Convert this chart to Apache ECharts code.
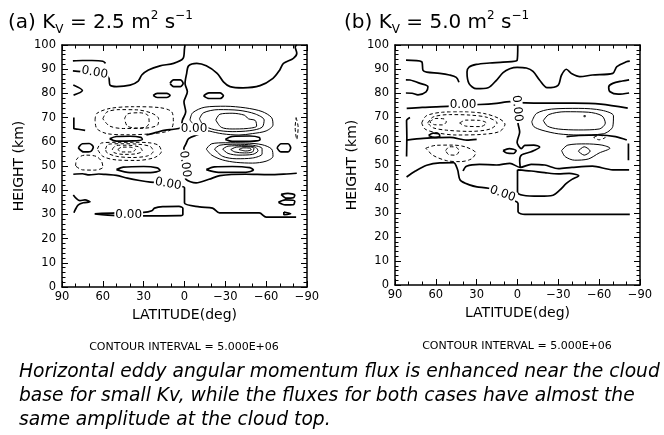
<!DOCTYPE html>
<html><head><meta charset="utf-8">
<script src="https://cdn.jsdelivr.net/npm/echarts@6/dist/echarts.min.js"></script>
<style>html,body{margin:0;padding:0;background:#fff}#c{width:664px;height:435px}</style>
</head><body><div id="c"></div>
<script>
// ---------- axis ticks ----------
const latTicks = [90, 60, 30, 0, -30, -60, -90];
const heightTicks = [0, 10, 20, 30, 40, 50, 60, 70, 80, 90, 100];
const contourLabel = '0.00';

// ---------- panel (a) Kv = 2.5 : contour lines [latitude, height] ----------
const a_zero_1 = [[82,93.4],[75,93.6],[68,93.6],[60,93.3],[58,92.4]];
const a_zero_2 = [[82,89.3],[76,89],[66,88.4],[58,87.8],[55.5,86.2],[54.7,83.4],[50,82.8],[40,83.4],[34,85.1],[31.4,87.6],[26.5,89.7],[18,91.4],[8,92.4],[1,94.5],[0,98.6],[-0.4,100]];
const a_zero_3 = [[28,62.8],[20,64],[14,64.8],[8,65.2],[3,65.8],[1.5,69],[-0.9,72.4],[0.4,76.5],[-2.1,80.7],[-0.4,84.1],[-1.6,88.3],[-3,91.4],[-9,92.4],[-16,91.4],[-24,88.3],[-28.6,84.8],[-33.5,82.8],[-43,82.3],[-55.5,83.2],[-65,86.2],[-70,89.7],[-72.7,92.4],[-80,94.5],[-82.5,96.6],[-81.3,99.3],[-82.5,100]];
const a_zero_4 = [[-18,64.5],[-9,62.8],[-3,61.3],[-1,59],[0.5,57.2],[-0.5,55.5],[0.3,51],[-0.5,46.5],[-1,44.5],[-8.5,43],[-18,44.5],[-26,46],[-45,46.6],[-62,46.4],[-75,46.7],[-82.5,47]];
const a_zero_5 = [[81.7,46.6],[75,46.8],[70,46.3],[63,46.7],[58,46.5],[50,46.1],[42,45],[33,44],[25,43.3],[12,42.6],[3,41.6],[0,41],[0,38],[0,34.7],[-11,33.1],[-20.6,32.6],[-25.7,30.6],[-55,30.6],[-60,28.9],[-82,28.9]];
const a_zero_6 = [[66,30.2],[50,30.6],[30,30.8],[24,31.5],[22,32.6],[16,33.2],[4,33.3],[1.2,32.5],[1.2,30],[4,29.5],[30,29.4],[50,29.5],[66,30.2]];
const a_zero_7 = [[81.7,38],[79.7,36.7],[76.8,35.7],[73.1,36],[69.4,35.2],[74.4,34.8],[78,33.9],[80.4,31.8],[81.2,30.7]];
const a_zero_8 = [[-71,38.3],[-76,38.7],[-81,38],[-80,36.9],[-75,36.7],[-71,38.3]];
const a_zero_9 = [[-69,35],[-74,36],[-81,35.5],[-80,34],[-74,33.9],[-69,35]];
const a_zero_10 = [[-73,31],[-78,30.3],[-73,29.9],[-73,31]];
const a_zero_11 = [[81.7,83.5],[75,81.2],[81.5,79.3]];
const a_zero_12 = [[81.3,70],[81.3,65.5],[78,65.2],[73,64.7]];
const a_zero_13 = [[55,61.3],[50,62.2],[40,62.3],[32,61.8],[31,61],[38,60.4],[50,60.3],[55,61.3]];
const a_zero_14 = [[-30,61],[-35,62.2],[-48,62.4],[-55,61.8],[-55.5,60.8],[-48,60.2],[-35,60.2],[-30,61]];
const a_zero_15 = [[23,79.2],[20,80],[13,80],[10.6,79.2],[13,78.3],[20,78.3],[23,79.2]];
const a_zero_16 = [[-14,79],[-18,80.2],[-26,80.2],[-28.6,79],[-26,77.9],[-18,77.9],[-14,79]];
const a_zero_17 = [[10.6,84.2],[8,85.6],[3,85.6],[1,84.2],[3,82.8],[8,82.8],[10.6,84.2]];
const a_zero_18 = [[78,57.5],[75,59.2],[70,59.3],[67,57.8],[69,56],[74,55.8],[78,57.5]];
const a_zero_19 = [[-68,57.5],[-71,59.2],[-76,59.2],[-78,57.5],[-76,55.8],[-71,55.8],[-68,57.5]];
const a_zero_20 = [[50,48.5],[45,49.5],[30,49.8],[20,49.2],[18,48.2],[25,47.3],[40,47.3],[50,48.5]];
const a_zero_21 = [[-16,48.5],[-22,49.6],[-35,49.8],[-48,49.3],[-50.6,48.3],[-45,47.4],[-25,47.4],[-16,48.5]];
const a_pos_1 = [[-4,69],[-6,72],[-15,74.3],[-30,74.7],[-45,74],[-57,72.5],[-64,70],[-65,67],[-60,64.5],[-50,63.4],[-40,62.8],[-28,63.3],[-18,64.5],[-8,66.5],[-4,69]];
const a_pos_2 = [[-11,69.5],[-14,72],[-25,73.3],[-40,73],[-52,71.5],[-58.5,69],[-57,66],[-48,64.6],[-35,64.2],[-22,65],[-14,66.8],[-11,69.5]];
const a_pos_3 = [[-23,69],[-26,71.4],[-35,71.8],[-44,71],[-47,69.5],[-52,68.8],[-53,66.5],[-46,65.5],[-35,65.3],[-27,66],[-23,69]];
const a_pos_4 = [[-16,57],[-20,59.2],[-30,59.6],[-45,59.5],[-57,58.8],[-64,57],[-65,54],[-60,52],[-50,51.2],[-38,51.5],[-28,52.5],[-20,54.5],[-16,57]];
const a_pos_5 = [[-22,57],[-26,58.6],[-38,59],[-50,58.6],[-57,57.2],[-57,55],[-50,53.3],[-38,53],[-28,54],[-22,57]];
const a_pos_6 = [[-28,57],[-32,58.2],[-42,58.4],[-52,57.8],[-54,56.3],[-50,54.8],[-40,54.5],[-32,55.2],[-28,57]];
const a_pos_7 = [[-34,56.8],[-38,57.8],[-46,58],[-51,57.3],[-50,55.8],[-44,55.4],[-37,55.8],[-34,56.8]];
const a_pos_8 = [[-40,56.8],[-43,57.5],[-48,57.4],[-49,56.7],[-45,56.2],[-40,56.8]];
const a_neg_1 = [[65.7,69],[64.5,71.7],[54.7,73.8],[37.6,74.5],[18,74.1],[9.4,72.4],[8.2,68.3],[10.6,64.8],[22.9,63.4],[42.5,62.9],[57.2,63.4],[64.5,65.5],[65.7,69]];
const a_neg_2 = [[60,69.5],[57,72.3],[48,73.3],[35,73.2],[24,71.8],[19,69.5],[20,66.8],[30,65.6],[45,65.5],[55,66.5],[60,69.5]];
const a_neg_3 = [[44,69.5],[42,71.5],[33,72],[27,71],[26,68],[28,66.2],[35,65.7],[42,66.5],[44,69.5]];
const a_neg_4 = [[64,57],[61,59.5],[50,59.8],[38,59.8],[26,59.6],[19,58.5],[17,56],[22,53.5],[35,52.3],[50,52.5],[60,54],[64,57]];
const a_neg_5 = [[58,57],[56,59],[46,59.2],[34,59],[25,58],[23,56],[27,54.2],[38,53.5],[50,54],[57,55.5],[58,57]];
const a_neg_6 = [[53,57],[50,58.5],[42,58.6],[33,57.8],[31,56.2],[36,55],[45,54.8],[52,55.6],[53,57]];
const a_neg_7 = [[49,56.8],[46,57.8],[40,57.8],[36,56.8],[39,55.8],[46,55.8],[49,56.8]];
const a_neg_8 = [[80,50],[79,53],[73,54.5],[65,54],[61,52],[60,49.5],[66,48.3],[75,48.4],[80,50]];
const a_neg_9 = [[-82,70],[-83.5,66],[-82.5,61],[-81.3,66],[-82,70]];
const a_labels = [[66,88.6,-10],[-7,65.2,0],[-0.3,50.8,-82],[12,42.6,-10],[41,29.7,0]];

// ---------- panel (b) Kv = 5.0 ----------
const b_zero_1 = [[-0.2,100],[0.3,93.6],[10.6,92.9],[20.4,92.5],[30.2,91.9],[35.6,90.8],[37.1,88.7],[35.6,83.9],[30.2,81.8],[21.6,82.2],[15.5,85.3],[10.6,88.5],[5.7,90.1],[0.3,90.7],[-6.5,90.4],[-11.4,89],[-16.3,85.3],[-21.7,82.2],[-29.8,83.2],[-32.3,87.4],[-35.9,89.9],[-40,88],[-45.8,86.8],[-55,87.5],[-70,88.2],[-73,91],[-80,93],[-82.5,93.3]];
const b_zero_2 = [[81.9,93.7],[70.4,93],[69.4,89.4],[66.7,88.7],[57.1,88.2],[50,87.5],[45,86.5],[43,84.5]];
const b_zero_3 = [[82,85.5],[79,85.4],[71.6,84],[65.8,82.6],[67.2,80.5],[73.1,79.2],[77.5,79.9],[82,80]];
const b_zero_4 = [[-82,85.5],[-77,85],[-70,84],[-67,82.5],[-68,80.5],[-74,79.5],[-82,80]];
const b_zero_5 = [[81.4,73.6],[70,74],[60,74.2],[49.6,74.5],[40,75],[27.6,75.2],[15.4,75.7],[5.6,76.4],[0,76],[-12,75.8],[-41.4,75.8],[-61.2,75.4],[-81,73.7]];
const b_zero_6 = [[0,76],[0.5,72],[-0.4,67.2],[-1.6,63.7],[0.3,59.5],[-2.9,56.8],[-5.3,58.2],[-12,58.3],[-16.3,57.5],[-10,55.5],[-3,54.2],[-1.6,51.9],[-2,49]];
const b_zero_7 = [[10.6,56],[6,56.8],[1,56],[3,54.8],[8,55],[10.6,56]];
const b_zero_8 = [[81.5,45],[75,47.5],[66.7,49.9],[57,50.9],[47,51],[44,48],[42.1,43.7],[34.7,41.6],[29.8,40.9],[21.3,40.3],[11,38],[2.9,35.3],[-0.4,34],[-0.4,30.5],[-5.4,29.4],[-82.5,29.4]];
const b_zero_9 = [[0,48],[0,43.7],[0,38.8],[-4.1,37.4],[-16.3,37],[-26.1,37.4],[-31,39.5],[-35.9,42.3],[-40,44],[-45,45.5],[-38,46.5],[-30,46.3],[-20,46.8],[-10,47.5],[0,48]];
const b_zero_10 = [[40,47.5],[37.5,49.5],[28,50.3],[15.4,50],[5.6,50.7],[-2,49],[-10,50.3],[-20,50],[-30,48.5],[-40,49],[-55,49.5],[-70,48],[-82,48]];
const b_zero_11 = [[81.4,60.4],[69.2,61.1],[49.6,61.5],[37.3,60.4],[30,60.7]];
const b_zero_12 = [[65.3,62.3],[62,63.3],[58,63],[57.1,62],[61,61.5],[65.3,62.3]];
const b_zero_13 = [[-36,61.8],[-45,62.3],[-60.7,62.5],[-72,61.8],[-80.3,60.4]];
const b_zero_14 = [[79,69.8],[81.5,68.5],[81.3,62],[81.5,53.5]];
const b_zero_15 = [[-81.5,59],[-81.5,52]];
const b_pos_1 = [[-10.5,68],[-14,71.5],[-25,73.3],[-45,73.6],[-62,72.8],[-70.5,70.5],[-70,66],[-63,63],[-45,62.5],[-30,63],[-18,64.5],[-12,66],[-10.5,68]];
const b_pos_2 = [[-19,68.5],[-23,71],[-35,72.2],[-52,72],[-62,70.5],[-64.5,67.5],[-60,65],[-45,64.6],[-30,65],[-22,66.2],[-19,68.5]];
const b_pos_3 = [[-48.8,70.6],[-49.8,70.6],[-49.8,70.1],[-48.8,70.1],[-48.8,70.6]];
const b_pos_4 = [[-32.4,56],[-37,58.3],[-50,58.8],[-62,58.3],[-67.9,57],[-60,55],[-52,52.5],[-42,52],[-35,53.5],[-32.4,56]];
const b_pos_5 = [[-44.6,55.8],[-49,57.6],[-53.4,55.8],[-49,54.1],[-44.6,55.8]];
const b_neg_1 = [[70.4,67.5],[67,70.5],[55,72],[40,72.2],[25,71.5],[14,69.5],[9.2,67],[13,64],[25,62.8],[45,62.5],[60,63.5],[68,65],[70.4,67.5]];
const b_neg_2 = [[66,67.5],[62,70],[50,71],[35,70.8],[22,69.8],[15,67.5],[20,65],[35,64],[52,64.5],[62,65.5],[66,67.5]];
const b_neg_3 = [[64.5,68],[60,69.4],[54,69.2],[52.3,68],[55,66.7],[61,66.8],[64.5,68]];
const b_neg_4 = [[42.5,67.5],[38,68.7],[28,68.6],[22.9,67.5],[27,66],[38,66.2],[42.5,67.5]];
const b_neg_5 = [[67.4,57],[60,58.2],[48,58.3],[38,57.5],[30.7,55],[34,52.5],[42,51.4],[52,51.8],[62,54],[67.4,57]];
const b_neg_6 = [[52.8,56],[50,57.6],[45,57.4],[43,55.8],[45.5,54.1],[50.5,54.3],[52.8,56]];
const b_neg_7 = [[-56,61.5],[-60,62.4],[-64.6,61.6],[-60,60.5],[-56,61.5]];
const b_labels = [[40,74.9,0],[0.3,73.5,-85],[11,38,-20]];

const panelA = {
  zero: [a_zero_1,a_zero_2,a_zero_3,a_zero_4,a_zero_5,a_zero_6,a_zero_7,a_zero_8,a_zero_9,a_zero_10,a_zero_11,a_zero_12,a_zero_13,a_zero_14,a_zero_15,a_zero_16,a_zero_17,a_zero_18,a_zero_19,a_zero_20,a_zero_21],
  pos: [a_pos_1,a_pos_2,a_pos_3,a_pos_4,a_pos_5,a_pos_6,a_pos_7,a_pos_8],
  neg: [a_neg_1,a_neg_2,a_neg_3,a_neg_4,a_neg_5,a_neg_6,a_neg_7,a_neg_8,a_neg_9],
  labels: a_labels
};
const panelB = {
  zero: [b_zero_1,b_zero_2,b_zero_3,b_zero_4,b_zero_5,b_zero_6,b_zero_7,b_zero_8,b_zero_9,b_zero_10,b_zero_11,b_zero_12,b_zero_13,b_zero_14,b_zero_15],
  pos: [b_pos_1,b_pos_2,b_pos_3,b_pos_4,b_pos_5],
  neg: [b_neg_1,b_neg_2,b_neg_3,b_neg_4,b_neg_5,b_neg_6,b_neg_7],
  labels: b_labels
};

const FONT = 'DejaVu Sans';
const fmtLat = v => v < 0 ? '\u2212' + (-v) : String(v);

function xAxes(g) {
  const base = {
    gridIndex: g, type: 'value', min: latTicks[latTicks.length-1], max: latTicks[0], interval: 30, inverse: true,
    axisLine: {onZero: false, lineStyle: {color: '#000', width: 1.5}},
    axisTick: {inside: true, length: 6, lineStyle: {color: '#000', width: 1}},
    minorTick: {show: true, splitNumber: 3, length: 3.5, lineStyle: {color: '#000', width: 1}},
    splitLine: {show: false}, minorSplitLine: {show: false}
  };
  return [
    Object.assign({}, base, {position: 'bottom',
      axisLabel: {color: '#000', fontFamily: FONT, fontSize: 11.5, margin: 4, formatter: fmtLat},
      name: 'LATITUDE(deg)', nameLocation: 'middle', nameGap: 21,
      nameTextStyle: {color: '#000', fontFamily: FONT, fontSize: 14}}),
    Object.assign({}, base, {position: 'top', axisLabel: {show: false}})
  ];
}
function yAxes(g) {
  const base = {
    gridIndex: g, type: 'value', min: heightTicks[0], max: heightTicks[heightTicks.length-1], interval: 10,
    axisLine: {onZero: false, lineStyle: {color: '#000', width: 1.5}},
    axisTick: {inside: true, length: 6, lineStyle: {color: '#000', width: 1}},
    minorTick: {show: true, splitNumber: 5, length: 3.5, lineStyle: {color: '#000', width: 1}},
    splitLine: {show: false}, minorSplitLine: {show: false}
  };
  return [
    Object.assign({}, base, {position: 'left',
      axisLabel: {color: '#000', fontFamily: FONT, fontSize: 11.5, margin: 6},
      name: 'HEIGHT (km)', nameLocation: 'middle', nameGap: 36, nameRotate: 90,
      nameTextStyle: {color: '#000', fontFamily: FONT, fontSize: 14}}),
    Object.assign({}, base, {position: 'right', axisLabel: {show: false}})
  ];
}

function panelSeries(p, g) {
  const out = [];
  const mk = (d, w, t) => ({
    type: 'line', xAxisIndex: g*2, yAxisIndex: g*2, data: d, showSymbol: false, symbol: 'none',
    smooth: 0.3, silent: true, animation: false, clip: true,
    lineStyle: {color: '#000', width: w, type: t}, z: 3
  });
  p.zero.forEach(d => out.push(mk(d, 1.7, 'solid')));
  p.pos.forEach(d => out.push(mk(d, 1.0, 'solid')));
  p.neg.forEach(d => out.push(mk(d, 1.0, [3.5, 2.5])));
  out.push({
    type: 'scatter', xAxisIndex: g*2, yAxisIndex: g*2, symbol: 'circle', symbolSize: 2, silent: true, animation: false,
    itemStyle: {color: 'rgba(255,255,255,0)'}, z: 10,
    labelLayout: {hideOverlap: false},
    data: p.labels.map(l => ({value: [l[0], l[1]], label: {rotate: l[2]}})),
    label: {show: true, position: 'inside', formatter: contourLabel, color: '#000', opacity: 1,
      textBorderWidth: 0, textBorderColor: 'transparent',
      fontFamily: FONT, fontSize: 12, backgroundColor: '#fff', padding: [0, 1]}
  });
  return out;
}

const titleRich = {
  m: {fontFamily: FONT, fontSize: 20, color: '#000', lineHeight: 26, verticalAlign: 'middle'},
  sub: {fontFamily: FONT, fontSize: 12, color: '#000', lineHeight: 26, verticalAlign: 'bottom'},
  sup: {fontFamily: FONT, fontSize: 12, color: '#000', lineHeight: 26, verticalAlign: 'top'}
};

const chart = echarts.init(document.getElementById('c'), null, {renderer: 'canvas'});
chart.setOption({
  animation: false,
  backgroundColor: '#fff',
  grid: [
    {left: 62, top: 45, width: 245, height: 242},
    {left: 395, top: 45, width: 245, height: 240}
  ],
  xAxis: xAxes(0).concat(xAxes(1)),
  yAxis: yAxes(0).concat(yAxes(1)),
  series: panelSeries(panelA, 0).concat(panelSeries(panelB, 1)),
  graphic: [
    {type: 'text', left: 8, top: 10, style: {text: '{m|(a) K}{sub|V}{m| = 2.5 m}{sup|2}{m| s}{sup|\u22121}', rich: titleRich}},
    {type: 'text', left: 344, top: 10, style: {text: '{m|(b) K}{sub|V}{m| = 5.0 m}{sup|2}{m| s}{sup|\u22121}', rich: titleRich}},
    {type: 'text', x: 184, y: 347, style: {text: 'CONTOUR INTERVAL = 5.000E+06', fontFamily: FONT, fontSize: 11, fill: '#000', align: 'center', verticalAlign: 'middle'}},
    {type: 'text', x: 517, y: 346, style: {text: 'CONTOUR INTERVAL = 5.000E+06', fontFamily: FONT, fontSize: 11, fill: '#000', align: 'center', verticalAlign: 'middle'}},
    {type: 'text', left: 19, top: 360, style: {
      text: 'Horizontal eddy angular momentum flux is enhanced near the cloud\nbase for small Kv, while the fluxes for both cases have almost the\nsame amplitude at the cloud top.',
      fontFamily: FONT, fontStyle: 'italic', fontSize: 18.7, lineHeight: 24, fill: '#000'}}
  ]
});
</script></body></html>
